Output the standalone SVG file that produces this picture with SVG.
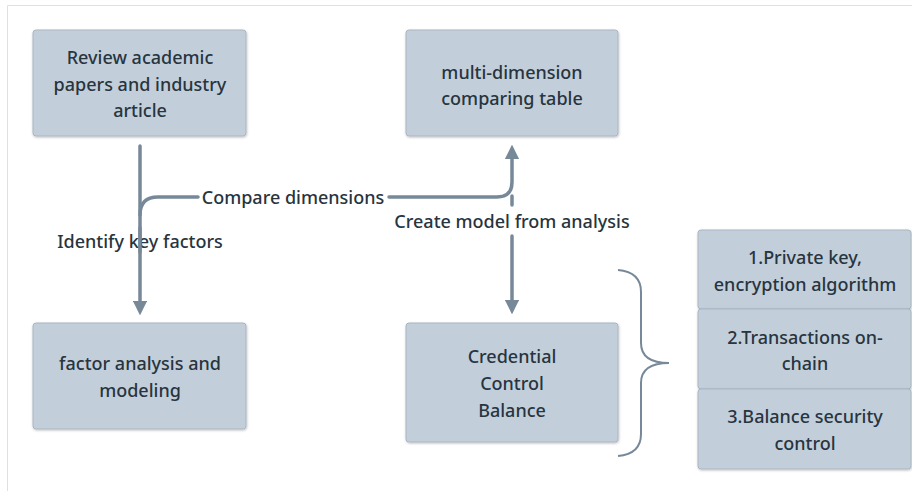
<svg xmlns="http://www.w3.org/2000/svg" width="912" height="491" viewBox="0 0 912 491">
<style>
.box{fill:#c2cfda;stroke:#aab6c0;stroke-width:1}
.t{font-family:"Noto Sans","DejaVu Sans",sans-serif;font-size:18px;font-weight:500;fill:#28343e;text-anchor:middle;dominant-baseline:central}
.c{fill:none;stroke:#778999;stroke-width:3.5;stroke-linecap:round}
.br{fill:none;stroke:#778999;stroke-width:2}
</style>
<defs>
<marker id="ah" viewBox="0 0 10 10" refX="5" refY="5" markerWidth="4.2" markerHeight="4.2" orient="auto" markerUnits="strokeWidth">
<path d="M0,0 L10,5 L0,10 z" fill="#778999"/>
</marker>
<filter id="sh" x="-5%" y="-5%" width="110%" height="115%"><feDropShadow dx="0.5" dy="1" stdDeviation="0.8" flood-color="#000" flood-opacity="0.25"/></filter>
</defs>
<rect width="912" height="491" fill="#fff"/>
<path d="M7.5,491 V5.5 H912" fill="none" stroke="#e0e0e0" stroke-width="1"/>
<g id="connectors">
<path class="c" d="M140,146 V308" marker-end="url(#ah)"/>
<path class="c" d="M140,215 Q140,197 158,197 H198"/>
<path class="c" d="M389,197 H497 Q512,197 512,182 V152" marker-end="url(#ah)"/>
<path class="c" d="M512,196 V205"/>
<path class="c" d="M512,236 V307" marker-end="url(#ah)"/>
<path class="br" d="M618,270 Q641,272 641,292 V343 Q641,363 669,363 Q641,363 641,383 V434 Q641,454 618,456"/>
</g>
<text class="t" x="140" y="241">Identify key factors</text>
<path class="c" d="M140,228 V252"/>
<text class="t" x="293" y="197">Compare dimensions</text>
<text class="t" x="512" y="221">Create model from analysis</text>
<g id="n1" filter="url(#sh)"><rect class="box" x="33" y="30" width="213" height="106" rx="3"/></g>
<g id="n1t"><text class="t" x="140" y="57">Review academic</text><text class="t" x="140" y="84">papers and industry</text><text class="t" x="140" y="110">article</text></g>
<g id="n2" filter="url(#sh)"><rect class="box" x="406" y="30" width="212" height="106" rx="3"/></g>
<g id="n2t"><text class="t" x="512" y="72">multi-dimension</text><text class="t" x="512" y="98">comparing table</text></g>
<g id="n3" filter="url(#sh)"><rect class="box" x="33" y="323" width="213" height="106" rx="3"/></g>
<g id="n3t"><text class="t" x="140" y="363">factor analysis and</text><text class="t" x="140" y="390">modeling</text></g>
<g id="n4" filter="url(#sh)"><rect class="box" x="406" y="323" width="212" height="119" rx="3"/></g>
<g id="n4t"><text class="t" x="512" y="356">Credential</text><text class="t" x="512" y="383">Control</text><text class="t" x="512" y="410">Balance</text></g>
<g id="n5" filter="url(#sh)"><rect class="box" x="698" y="230" width="213" height="79" rx="3"/></g>
<g id="n5t"><text class="t" x="805" y="257">1.Private key,</text><text class="t" x="805" y="284">encryption algorithm</text></g>
<g id="n6" filter="url(#sh)"><rect class="box" x="698" y="309" width="213" height="80" rx="3"/></g>
<g id="n6t"><text class="t" x="805" y="337">2.Transactions on-</text><text class="t" x="805" y="363">chain</text></g>
<g id="n7" filter="url(#sh)"><rect class="box" x="698" y="389" width="213" height="80" rx="3"/></g>
<g id="n7t"><text class="t" x="805" y="416">3.Balance security</text><text class="t" x="805" y="443">control</text></g>
</svg>
